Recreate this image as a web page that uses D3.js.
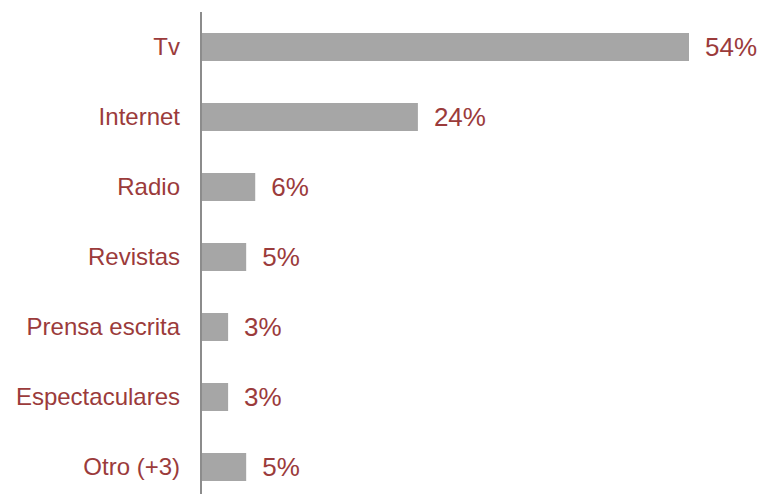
<!DOCTYPE html>
<html lang="es">
  <head>
    <meta charset="utf-8" />
    <title>Medios</title>
    <script src="https://cdn.jsdelivr.net/npm/d3@7"></script>
    <style>
      body { margin: 0; background: #fff; }
    </style>
  </head>
  <body>
    <div id="root"></div>
    <script type="text/javascript">
      // data
      const categories = ["Tv", "Internet", "Radio", "Revistas", "Prensa escrita", "Espectaculares", "Otro (+3)"];
      const values = [54, 24, 6, 5, 3, 3, 5];

      const width = 761;
      const height = 494;
      const axisX = 201;
      const marginTop = 12;
      const textColor = "#9b3b3b";

      const xScale = d3.scaleLinear().domain([0, 54]).range([axisX, 689]);
      const yScale = d3
        .scaleBand()
        .domain(categories)
        .range([12, 502])
        .paddingInner(0.6)
        .paddingOuter(0.3);

      const svg = d3.select("#root").append("svg")
        .attr("width", width)
        .attr("height", height);

      // bars
      svg.selectAll("rect.bar")
        .data(categories)
        .enter()
        .append("rect")
        .attr("class", "bar")
        .attr("x", xScale(0))
        .attr("y", (d) => yScale(d))
        .attr("width", (d, i) => xScale(values[i]) - xScale(0))
        .attr("height", yScale.bandwidth())
        .attr("fill", "#a6a6a6");

      // axis line
      svg.append("line")
        .attr("x1", axisX).attr("x2", axisX)
        .attr("y1", marginTop).attr("y2", height)
        .attr("stroke", "#8c8c8c")
        .attr("stroke-width", 2);

      // category labels
      svg.selectAll("text.cat")
        .data(categories)
        .enter()
        .append("text")
        .attr("class", "cat")
        .attr("x", 180)
        .attr("y", (d) => yScale(d) + yScale.bandwidth() / 2)
        .attr("dy", "0.35em")
        .attr("text-anchor", "end")
        .attr("font-family", "Liberation Sans, Arial, sans-serif")
        .attr("font-size", 24)
        .attr("fill", textColor)
        .text((d) => d);

      // value labels
      svg.selectAll("text.val")
        .data(categories)
        .enter()
        .append("text")
        .attr("class", "val")
        .attr("x", (d, i) => xScale(values[i]) + 16)
        .attr("y", (d) => yScale(d) + yScale.bandwidth() / 2)
        .attr("dy", "0.36em")
        .attr("font-family", "Liberation Sans, Arial, sans-serif")
        .attr("font-size", 26)
        .attr("fill", textColor)
        .text((d, i) => values[i] + "%");
    </script>
  </body>
</html>
